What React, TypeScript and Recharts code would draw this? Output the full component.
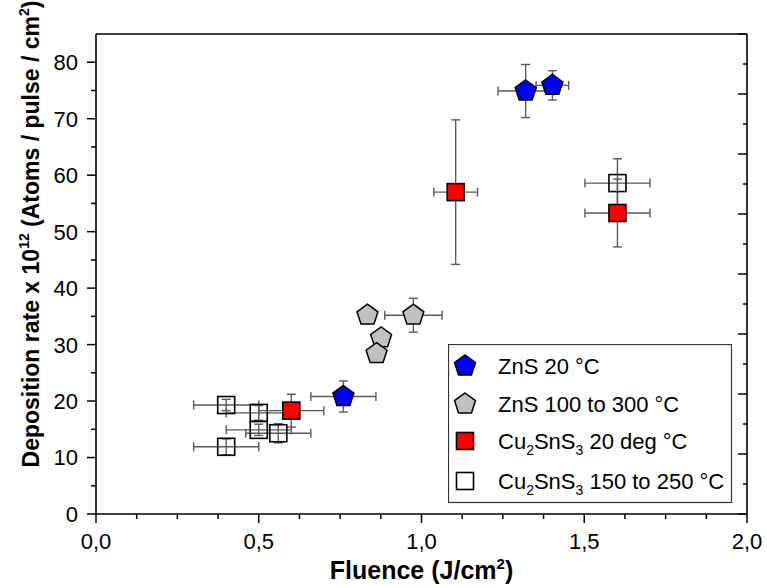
import React from 'react';
import { ScatterChart, Scatter, XAxis, YAxis, ErrorBar, Legend } from 'recharts';

const FONT = '"Liberation Sans", Arial, Helvetica, sans-serif';

// ZnS 20 °C
const znsRtX = [0.76, 1.32, 1.402];
const znsRtY = [20.8, 74.9, 75.9];
const znsRtXErr = [0.1, 0.085, 0.05];
const znsRtYErr = [2.75, 4.7, 2.6];

// ZnS 100 to 300 °C
const znsHtX = [0.834, 0.975, 0.876, 0.862];
const znsHtY = [35.2, 35.2, 31.2, 28.4];
const znsHtXErr = [0.015, 0.088, 0.015, 0.015];
const znsHtYErr = [1.5, 3.0, 1.0, 1.3];

// Cu2SnS3 20 deg °C
const cuRtX = [0.6, 1.105, 1.602];
const cuRtY = [18.3, 57.0, 53.3];
const cuRtXErr = [0.1, 0.067, 0.1];
const cuRtYErr = [2.9, 12.8, 6.0];

// Cu2SnS3 150 to 250 °C
const cuHtX = [0.4, 0.5, 0.5, 0.56, 0.4, 1.602];
const cuHtY = [19.3, 17.9, 14.9, 14.3, 11.9, 58.6];
const cuHtXErr = [0.1, 0.1, 0.1, 0.1, 0.1, 0.1];
const cuHtYErr = [1.0, 1.3, 1.0, 1.7, 1.4, 4.3];

// axis ticks
const xMajor = [0, 0.5, 1, 1.5, 2];
const xBottomTicks = [0, 0.125, 0.25, 0.375, 0.5, 0.625, 0.75, 0.875, 1, 1.125, 1.25, 1.375, 1.5, 1.625, 1.75, 1.875, 2];
const xTopTicks = [0, 0.1, 0.2, 0.3, 0.4, 0.5, 0.6, 0.7, 0.8, 0.9, 1, 1.1, 1.2, 1.3, 1.4, 1.5, 1.6, 1.7, 1.8, 1.9, 2];
const xTopMajor = [0, 0.2, 0.4, 0.6, 0.8, 1, 1.2, 1.4, 1.6, 1.8, 2];
const yMajor = [0, 10, 20, 30, 40, 50, 60, 70, 80];
const yLeftTicks = [0, 5, 10, 15, 20, 25, 30, 35, 40, 45, 50, 55, 60, 65, 70, 75, 80];
const yRightTicks = [0, 5, 10, 15, 20, 25, 30, 35, 40, 45, 50, 55, 60, 65, 70, 75, 80];

type Part = string | { sub: string };
const legendLabels: Part[][] = [
  ['ZnS 20 °C'],
  ['ZnS 100 to 300 °C'],
  ['Cu', { sub: '2' }, 'SnS', { sub: '3' }, ' 20 deg °C'],
  ['Cu', { sub: '2' }, 'SnS', { sub: '3' }, ' 150 to 250 °C'],
];
const legendShapes = ['pentagon', 'pentagon', 'square', 'square'];
const legendFills = ['#0000ff', '#c0c0c0', '#ff0000', '#ffffff'];

const mk = (xs: number[], ys: number[], exs: number[], eys: number[]) =>
  xs.map((x, i) => ({ x, y: ys[i], ex: exs[i], ey: eys[i] }));

const pentPoints = (cx: number, cy: number, r: number) => {
  const pts: string[] = [];
  for (let k = 0; k < 5; k++) {
    const a = (-90 + k * 72) * Math.PI / 180;
    pts.push(`${cx + r * Math.cos(a)},${cy + r * Math.sin(a)}`);
  }
  return pts.join(' ');
};

const Pentagon = (fill: string) => (p: any) => (
  <polygon points={pentPoints(p.cx, p.cy, 11)} fill={fill} stroke="#000" strokeWidth={1.5} strokeLinejoin="miter" />
);
const Square = (fill: string) => (p: any) => (
  <rect x={p.cx - 8.5} y={p.cy - 8.5} width={17} height={17} fill={fill} stroke="#000" strokeWidth={1.6} />
);

const isIn = (arr: number[], v: number) => arr.some((a) => Math.abs(a - v) < 1e-6);
const fmtX = (v: number) => v.toFixed(1).replace('.', ',');

const BottomTick = (p: any) => {
  const v = p.payload.value;
  const major = isIn(xMajor, v);
  return (
    <g>
      <line x1={p.x} x2={p.x} y1={p.y} y2={p.y + (major ? 9 : 5)} stroke="#000" strokeWidth={1.5} />
      {major && (
        <text x={p.x} y={p.y + 35} textAnchor="middle" fontFamily={FONT} fontSize={22} fill="#000">
          {fmtX(v)}
        </text>
      )}
    </g>
  );
};

const TopTick = (p: any) => {
  const v = p.payload.value;
  const major = isIn(xTopMajor, v);
  return <line x1={p.x} x2={p.x} y1={p.y} y2={p.y + (major ? 10 : 5)} stroke="#000" strokeWidth={1.5} />;
};

const LeftTick = (p: any) => {
  const v = p.payload.value;
  const major = isIn(yMajor, v);
  return (
    <g>
      <line x1={p.x} x2={p.x - (major ? 9 : 5)} y1={p.y} y2={p.y} stroke="#000" strokeWidth={1.5} />
      {major && (
        <text x={p.x - 18} y={p.y} dy="0.36em" textAnchor="end" fontFamily={FONT} fontSize={22} fill="#000">
          {v}
        </text>
      )}
    </g>
  );
};

const RightTick = (p: any) => {
  const v = p.payload.value;
  const major = isIn(yMajor, v);
  return <line x1={p.x} x2={p.x - (major ? 9 : 4)} y1={p.y} y2={p.y} stroke="#000" strokeWidth={1.5} />;
};

const XTitle = () => (
  <text x={421.5} y={579} textAnchor="middle" fontFamily={FONT} fontWeight="bold" fontSize={25} fill="#000">
    Fluence (J/cm<tspan fontSize={15} dy={-10}>2</tspan><tspan dy={10}>)</tspan>
  </text>
);

const YTitle = () => (
  <text
    x={0}
    y={0}
    transform="translate(39,234) rotate(-90)"
    textAnchor="middle"
    fontFamily={FONT}
    fontWeight="bold"
    fontSize={23}
    fill="#000"
  >
    Deposition rate x 10<tspan fontSize={14} dy={-10}>12</tspan>
    <tspan dy={10}> (Atoms / pulse / cm</tspan>
    <tspan fontSize={14} dy={-10}>2</tspan>
    <tspan dy={10}>)</tspan>
  </text>
);

const LegendBox = () => {
  const rowY = [22, 60, 97, 137];
  return (
    <svg width={285} height={160} style={{ display: 'block' }}>
      <rect x={0.5} y={0.5} width={283} height={158} fill="#fff" stroke="#333" strokeWidth={1.2} />
      {legendLabels.map((parts, i) => {
        const cy = rowY[i];
        const shape =
          legendShapes[i] === 'pentagon' ? (
            <polygon points={pentPoints(17, cy, 11)} fill={legendFills[i]} stroke="#000" strokeWidth={1.5} />
          ) : (
            <rect x={17 - 8.5} y={cy - 8.5} width={17} height={17} fill={legendFills[i]} stroke="#000" strokeWidth={1.6} />
          );
        let shifted = false;
        return (
          <g key={i}>
            {shape}
            <text x={50} y={cy + 8} fontFamily={FONT} fontSize={22} fill="#000">
              {parts.map((pt, j) => {
                if (typeof pt === 'string') {
                  const dy = shifted ? -6 : 0;
                  shifted = false;
                  return (
                    <tspan key={j} dy={dy}>
                      {pt}
                    </tspan>
                  );
                }
                shifted = true;
                return (
                  <tspan key={j} fontSize={14} dy={6}>
                    {pt.sub}
                  </tspan>
                );
              })}
            </text>
          </g>
        );
      })}
    </svg>
  );
};

const errStroke = '#5a5a5a';

export default function App() {
  const blue = mk(znsRtX, znsRtY, znsRtXErr, znsRtYErr);
  const gray = mk(znsHtX, znsHtY, znsHtXErr, znsHtYErr);
  const red = mk(cuRtX, cuRtY, cuRtXErr, cuRtYErr);
  const white = mk(cuHtX, cuHtY, cuHtXErr, cuHtYErr);

  const errs = [
    <ErrorBar key="ex" dataKey="ex" direction="x" width={4.5} stroke={errStroke} strokeWidth={1.4} isAnimationActive={false} />,
    <ErrorBar key="ey" dataKey="ey" direction="y" width={4.5} stroke={errStroke} strokeWidth={1.4} isAnimationActive={false} />,
  ];

  return (
    <div style={{ position: 'absolute', left: 0, top: 0, background: '#fff' }}>
      <ScatterChart width={767} height={588} margin={{ top: 33, right: 19, bottom: 0, left: 0 }}>
        <XAxis
          xAxisId="b"
          dataKey="x"
          type="number"
          domain={[0, 2]}
          ticks={xBottomTicks}
          interval={0}
          tickSize={0}
          tickMargin={0}
          tick={<BottomTick />}
          axisLine={{ stroke: '#000', strokeWidth: 1.6 }}
          tickLine={false}
          height={74}
          orientation="bottom"
          allowDataOverflow
          label={<XTitle />}
        />
        <XAxis
          xAxisId="t"
          type="number"
          domain={[0, 2]}
          ticks={xTopTicks}
          interval={0}
          tickSize={0}
          tickMargin={0}
          tick={<TopTick />}
          axisLine={{ stroke: '#000', strokeWidth: 1.6 }}
          tickLine={false}
          height={1}
          orientation="top"
          allowDataOverflow
        />
        <YAxis
          yAxisId="l"
          dataKey="y"
          type="number"
          domain={[0, 85]}
          ticks={yLeftTicks}
          interval={0}
          tickSize={0}
          tickMargin={0}
          tick={<LeftTick />}
          axisLine={{ stroke: '#000', strokeWidth: 1.6 }}
          tickLine={false}
          width={96}
          orientation="left"
          allowDataOverflow
          label={<YTitle />}
        />
        <YAxis
          yAxisId="r"
          type="number"
          domain={[0, 80]}
          ticks={yRightTicks}
          interval={0}
          tickSize={0}
          tickMargin={0}
          tick={<RightTick />}
          axisLine={{ stroke: '#000', strokeWidth: 1.6 }}
          tickLine={false}
          width={1}
          orientation="right"
          allowDataOverflow
        />
        <Legend
          layout="horizontal"
          verticalAlign="middle"
          align="center"
          wrapperStyle={{ left: 448, top: 344, width: 285, height: 160 }}
          content={<LegendBox />}
        />
        <Scatter name="ZnS 20 °C" data={blue} xAxisId="b" yAxisId="l" shape={Pentagon('#0000ff')} isAnimationActive={false}>
          {errs}
        </Scatter>
        <Scatter name="ZnS 100 to 300 °C" data={gray} xAxisId="b" yAxisId="l" shape={Pentagon('#c0c0c0')} isAnimationActive={false}>
          {errs}
        </Scatter>
        <Scatter name="Cu2SnS3 20 deg °C" data={red} xAxisId="b" yAxisId="l" shape={Square('#ff0000')} isAnimationActive={false}>
          {errs}
        </Scatter>
        <Scatter name="Cu2SnS3 150 to 250 °C" data={white} xAxisId="b" yAxisId="l" shape={Square('none')} isAnimationActive={false}>
          {errs}
        </Scatter>
      </ScatterChart>
    </div>
  );
}
